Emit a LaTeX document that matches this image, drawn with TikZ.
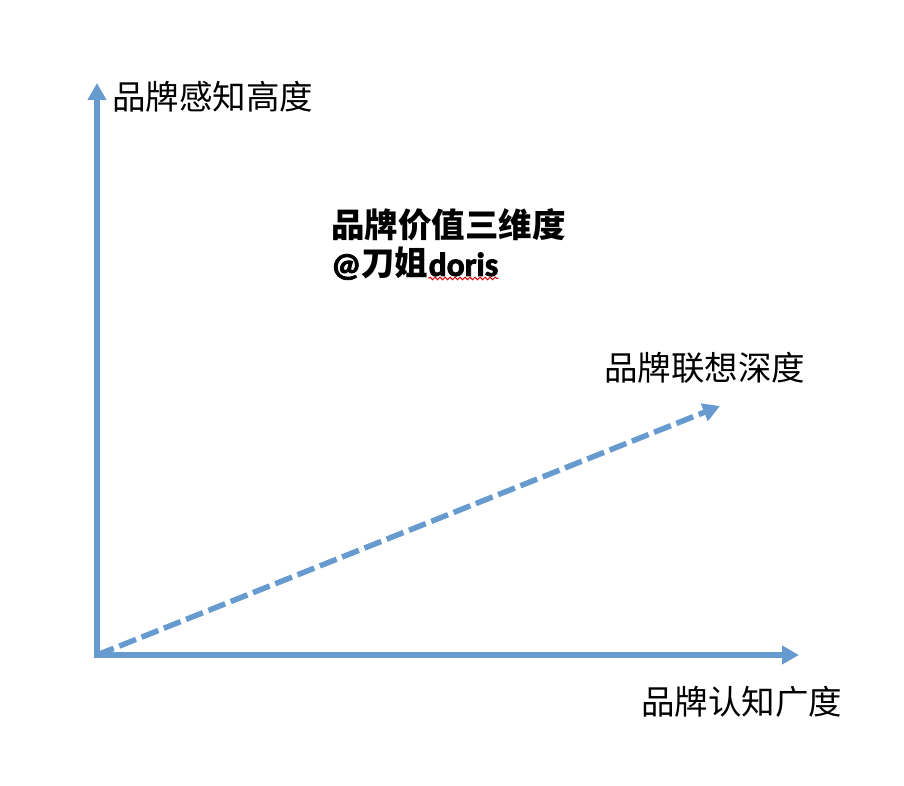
\documentclass[tikz,border=0pt]{standalone}
\usepackage{fontspec}
\setmainfont{Noto Sans CJK SC}
\newfontfamily\latinbold{Carlito}[FakeBold=2.5]
\usetikzlibrary{arrows.meta,decorations.pathmorphing}
\definecolor{axisblue}{RGB}{103,155,207}
\begin{document}
\begin{tikzpicture}[x=1pt,y=-1pt,
  axis/.style={draw=axisblue,line width=5.5pt,-{Triangle[length=17pt,width=18pt]}},
  label/.style={anchor=west,inner sep=0pt,font=\fontsize{33.5}{40}\selectfont},
  title/.style={label,font=\fontsize{33.5}{40}\selectfont\bfseries}]
  \useasboundingbox (0,0) rectangle (904,786);

  \coordinate (O) at (97,655);
  \coordinate (Ostart) at (94,655);
  \coordinate (Olow) at (97,658);
  \coordinate (Y) at (97,83);
  \coordinate (X) at (799,655);
  \coordinate (Z) at (720,406);

  \node[label] (height) at (112,97) {品牌感知高度};
  \node[title] (name) at (331,225) {品牌价值三维度};
  \node[title,anchor=base west] (author) at (331,276) {{\latinbold @}刀姐};
  \node[title,anchor=base west] (doris) at (author.base east) {\latinbold doris};
  \node[label] (depth) at (604,368) {品牌联想深度};
  \node[label] (breadth) at (641,702) {品牌认知广度};

  \draw[axis] (Olow) -- (Y);
  \draw[axis] (Ostart) -- (X);
  \draw[axis,dash pattern=on 18pt off 6pt] (O) -- (Z);

  \draw[red!85!black,line width=1pt,decorate,decoration={snake,amplitude=1.3pt,segment length=5pt}]
    ([yshift=-2pt]doris.south west) -- ([yshift=-2pt]doris.south east);
\end{tikzpicture}
\end{document}
